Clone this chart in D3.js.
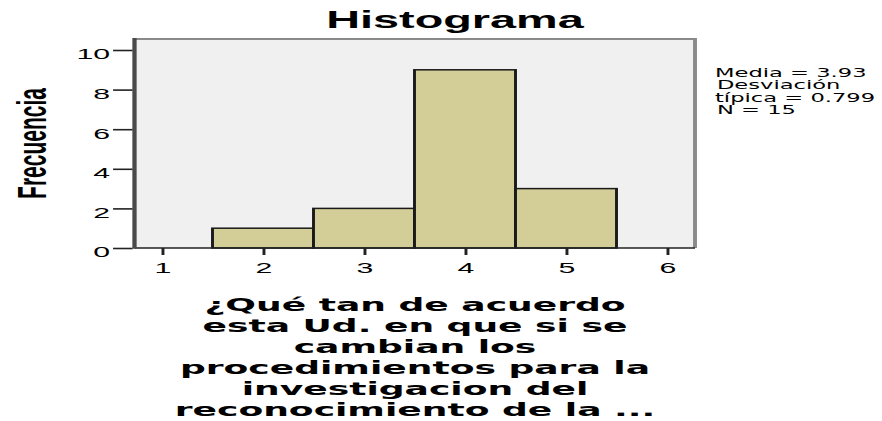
<!DOCTYPE html>
<html>
<head>
<meta charset="utf-8">
<script src="https://cdn.jsdelivr.net/npm/d3@7"></script>
<style>
  html, body { margin: 0; padding: 0; background: #ffffff; }
  svg { display: block; }
</style>
</head>
<body>
<svg id="chart" width="882" height="421"></svg>
<script>
// ---- data ----
const binStarts = [1.5, 2.5, 3.5, 4.5];
const binEnds   = [2.5, 3.5, 4.5, 5.5];
const counts    = [1, 2, 9, 3];
const xTicks    = [1, 2, 3, 4, 5, 6];
const yTicks    = [0, 2, 4, 6, 8, 10];
const titleText = "Histograma";
const yLabelText = "Frecuencia";
const statsLines = ["Media = 3.93", "Desviación", "típica = 0.799", "N = 15"];
const xLabelLines = [
  "¿Qué tan de acuerdo",
  "esta Ud. en que si se",
  "cambian los",
  "procedimientos para la",
  "investigacion del",
  "reconocimiento de la ..."
];

// ---- layout (whole picture is horizontally stretched) ----
const SX = 1.95;               // horizontal stretch of the original picture
const L = v => v / SX;         // screen x -> logical x
const SANS = "'Liberation Sans', Arial, sans-serif";
const DEJA = "'DejaVu Sans', Verdana, sans-serif";

const svg = d3.select("#chart");
const g = svg.append("g").attr("transform", `scale(${SX},1)`);

const x = d3.scaleLinear().domain([1, 6]).range([L(162), L(667)]);
const y = d3.scaleLinear().domain([0, 10]).range([248, 50]);

const plotLeft = L(134.5), plotRight = L(695), plotTop = 39, plotBottom = y(0);

// plot background
g.append("rect")
  .attr("x", plotLeft).attr("y", plotTop)
  .attr("width", plotRight - plotLeft).attr("height", plotBottom - plotTop)
  .attr("fill", "#f0f0f0");

// top border
g.append("line")
  .attr("x1", plotLeft).attr("x2", plotRight)
  .attr("y1", plotTop).attr("y2", plotTop)
  .attr("stroke", "#8a8a8a").attr("stroke-width", 2);
// right border
g.append("line")
  .attr("x1", plotRight).attr("x2", plotRight)
  .attr("y1", plotTop - 1).attr("y2", plotBottom)
  .attr("stroke", "#8a8a8a").attr("stroke-width", 2);

// bars
const bins = counts.map((c, i) => ({ x0: binStarts[i], x1: binEnds[i], n: c }));
g.append("g").selectAll("rect").data(bins).join("rect")
  .attr("x", d => x(d.x0)).attr("width", d => x(d.x1) - x(d.x0))
  .attr("y", d => y(d.n)).attr("height", d => y(0) - y(d.n))
  .attr("fill", "#d3cd97")
  .attr("stroke", "#1a1a1a").attr("stroke-width", 1.5);

// bottom axis line
g.append("line")
  .attr("x1", plotLeft).attr("x2", plotRight)
  .attr("y1", plotBottom).attr("y2", plotBottom)
  .attr("stroke", "#222").attr("stroke-width", 1.5);

// left axis line
g.append("line")
  .attr("x1", plotLeft).attr("x2", plotLeft)
  .attr("y1", plotTop - 1).attr("y2", plotBottom + 0.75)
  .attr("stroke", "#4a4a4a").attr("stroke-width", 2.2);

// y axis ticks + labels
const yAxis = d3.axisLeft(y).tickValues(yTicks).tickSize(10).tickPadding(1.5).tickFormat(d3.format("d"));
const ya = g.append("g").attr("transform", `translate(${plotLeft - 1},0)`).call(yAxis);
ya.select(".domain").remove();
ya.selectAll(".tick line").attr("stroke", "#222").attr("stroke-width", 1.6);
ya.selectAll(".tick text")
  .style("font-family", SANS)
  .style("font-size", "15.5px").attr("fill", "#000")
  .attr("dy", "0.58em");

// x axis ticks + labels
const xAxis = d3.axisBottom(x).tickValues(xTicks).tickSize(7).tickPadding(7).tickFormat(d3.format("d"));
const xa = g.append("g").attr("transform", `translate(0,${plotBottom})`).call(xAxis);
xa.select(".domain").remove();
xa.selectAll(".tick line").attr("stroke", "#222").attr("stroke-width", 1.5);
xa.selectAll(".tick text")
  .style("font-family", SANS)
  .style("font-size", "15.5px").attr("fill", "#000");

// title
g.append("text")
  .attr("x", L(455)).attr("y", 28)
  .attr("text-anchor", "middle")
  .style("font-family", SANS)
  .style("font-size", "24px").style("font-weight", "bold")
  .text(titleText);

// y label
g.append("text")
  .attr("transform", `translate(${L(46)},143.5) rotate(-90)`)
  .attr("text-anchor", "middle")
  .style("font-family", SANS)
  .style("font-size", "21px").style("font-weight", "bold")
  .text(yLabelText);

// stats box
const statsY = [77, 89.3, 101.6, 114];
const statsDx = [0, 1, 0, 1];
g.append("g").selectAll("text").data(statsLines).join("text")
  .attr("x", (d, i) => L(715) + statsDx[i])
  .attr("y", (d, i) => statsY[i])
  .style("font-family", DEJA)
  .style("font-size", "11.6px")
  .text(d => d);

// x label (multi-line)
g.append("g").selectAll("text").data(xLabelLines).join("text")
  .attr("x", L(415))
  .attr("y", (d, i) => 311 + i * 21)
  .attr("text-anchor", "middle")
  .style("font-family", DEJA)
  .style("font-size", "18.5px").style("font-weight", "bold")
  .text(d => d);
</script>
</body>
</html>
